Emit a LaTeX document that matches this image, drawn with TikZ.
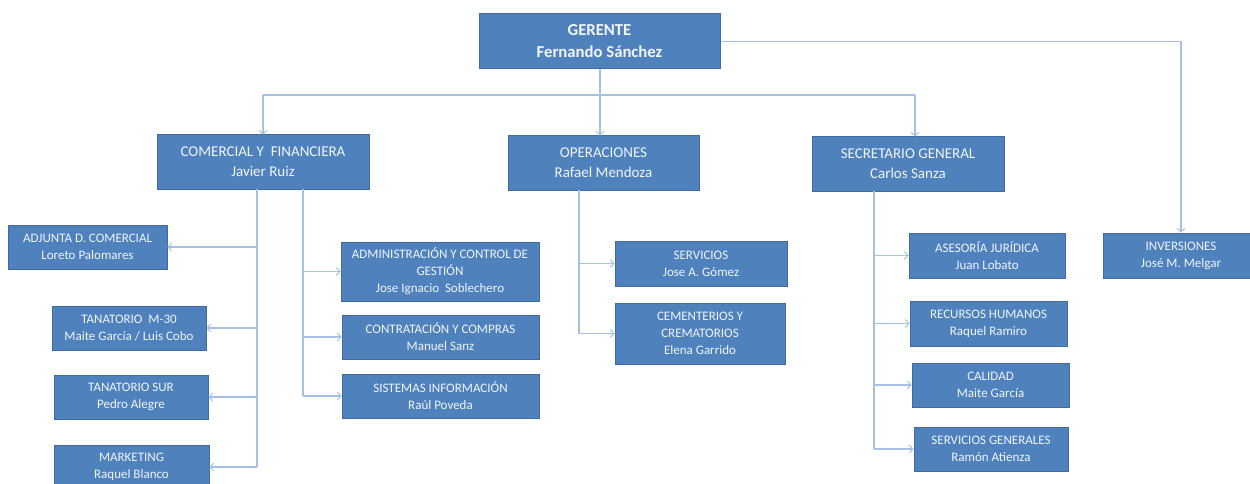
\documentclass[tikz,border=0pt]{standalone}
\usepackage{fontspec}
\setmainfont{Carlito}
\usetikzlibrary{arrows.meta}
\definecolor{boxfill}{HTML}{4F81BD}
\definecolor{boxline}{HTML}{3F6B9F}
\definecolor{txt}{HTML}{F2F5FA}
\definecolor{conn}{HTML}{A5C0E2}
\tikzset{
  box/.style={fill=boxfill, draw=boxline, line width=1pt, text=txt, align=center, inner sep=1pt},
  topbox/.style={box, font=\fontsize{16.7}{22}\selectfont\bfseries},
  midbox/.style={box, font=\fontsize{15}{20}\selectfont},
  smallbox/.style={box, font=\fontsize{13}{17}\selectfont},
  conline/.style={draw=conn, line width=1.2pt},
  arr/.style={conline, -{Straight Barb[length=3.5pt,width=8pt,line width=1pt]}},
}
\begin{document}
\begin{tikzpicture}[x=1pt,y=-1pt]
\useasboundingbox (0,0) rectangle (1250,484);
\clip (0,0) rectangle (1250,484);
% top
\node[topbox, minimum width=241pt, minimum height=55pt] (ger) at (599.5,41.5) {GERENTE\\Fernando Sánchez};
% level 2
\node[midbox, minimum width=212pt, minimum height=54pt] (com) at (263,162) {COMERCIAL Y\ \ FINANCIERA\\Javier Ruiz};
\node[midbox, minimum width=191pt, minimum height=54pt] (ope) at (603.5,163) {OPERACIONES\\Rafael Mendoza};
\node[midbox, minimum width=192pt, minimum height=54pt] (sec) at (908,164) {SECRETARIO GENERAL\\Carlos Sanza};
\node[smallbox, minimum width=156pt, minimum height=45pt] (inv) at (1181,255.5) {INVERSIONES\\José M. Melgar};
% left column
\node[smallbox, minimum width=159pt, minimum height=44pt] (adj) at (87.5,247) {ADJUNTA D. COMERCIAL\\Loreto Palomares};
\node[smallbox, minimum width=154pt, minimum height=44pt] (t30) at (129,328) {TANATORIO\ \ M-30\\Maite García / Luis Cobo};
\node[smallbox, minimum width=154pt, minimum height=44pt] (tsur) at (131,397) {TANATORIO SUR\\Pedro Alegre};
\node[smallbox, minimum width=155pt, minimum height=44pt] (mkt) at (131.5,467) {MARKETING\\Raquel Blanco};
% comercial right column
\node[smallbox, minimum width=198pt, minimum height=59pt] (adm) at (440,271.5) {ADMINISTRACIÓN Y CONTROL DE\\GESTIÓN\\Jose Ignacio\ \ Soblechero};
\node[smallbox, minimum width=197pt, minimum height=44pt] (con) at (440.5,337) {CONTRATACIÓN Y COMPRAS\\Manuel Sanz};
\node[smallbox, minimum width=197pt, minimum height=44pt] (sis) at (440.5,396) {SISTEMAS INFORMACIÓN\\Raúl Poveda};
% operaciones column
\node[smallbox, minimum width=172pt, minimum height=45pt] (serv) at (701,263.5) {SERVICIOS\\Jose A. Gómez};
\node[smallbox, minimum width=170pt, minimum height=61pt] (cem) at (700,333.5) {CEMENTERIOS Y\\CREMATORIOS\\Elena Garrido};
% secretario column
\node[smallbox, minimum width=156pt, minimum height=45pt] (ase) at (987,255.5) {ASESORÍA JURÍDICA\\Juan Lobato};
\node[smallbox, minimum width=157pt, minimum height=45pt] (rrhh) at (988.5,323.5) {RECURSOS HUMANOS\\Raquel Ramiro};
\node[smallbox, minimum width=157pt, minimum height=44pt] (cal) at (990.5,385) {CALIDAD\\Maite García};
\node[smallbox, minimum width=154pt, minimum height=44pt] (sg) at (991,449) {SERVICIOS GENERALES\\Ramón Atienza};
% connectors from top
\coordinate (busL) at (263,95);
\coordinate (busR) at (915,95);
\coordinate (gdown) at (600,69);
\draw[conline] (busL) -- (busR);
\draw[arr] (busL) -- (com.north);
\draw[arr] (busR) -- (busR |- sec.north);
\draw[arr] (gdown) -- (gdown |- ope.north);
\draw[arr] (ger.east) -| (inv.north);
% comercial
\coordinate (cL) at (257,189);
\coordinate (cR) at (303,189);
\draw[conline] (cL) -- (cL |- mkt.east);
\draw[arr] (cL |- adj.east) -- (adj.east);
\draw[arr] (cL |- t30.east) -- (t30.east);
\draw[arr] (cL |- tsur.east) -- (tsur.east);
\draw[arr] (cL |- mkt.east) -- (mkt.east);
\draw[conline] (cR) -- (cR |- sis.west);
\draw[arr] (cR |- adm.west) -- (adm.west);
\draw[arr] (cR |- con.west) -- (con.west);
\draw[arr] (cR |- sis.west) -- (sis.west);
% operaciones
\coordinate (oL) at (579,190);
\draw[conline] (oL) -- (oL |- cem.west);
\draw[arr] (oL |- serv.west) -- (serv.west);
\draw[arr] (oL |- cem.west) -- (cem.west);
% secretario
\coordinate (sL) at (874,191);
\draw[conline] (sL) -- (sL |- sg.west);
\draw[arr] (sL |- ase.west) -- (ase.west);
\draw[arr] (sL |- rrhh.west) -- (rrhh.west);
\draw[arr] (sL |- cal.west) -- (cal.west);
\draw[arr] (sL |- sg.west) -- (sg.west);
\end{tikzpicture}
\end{document}
